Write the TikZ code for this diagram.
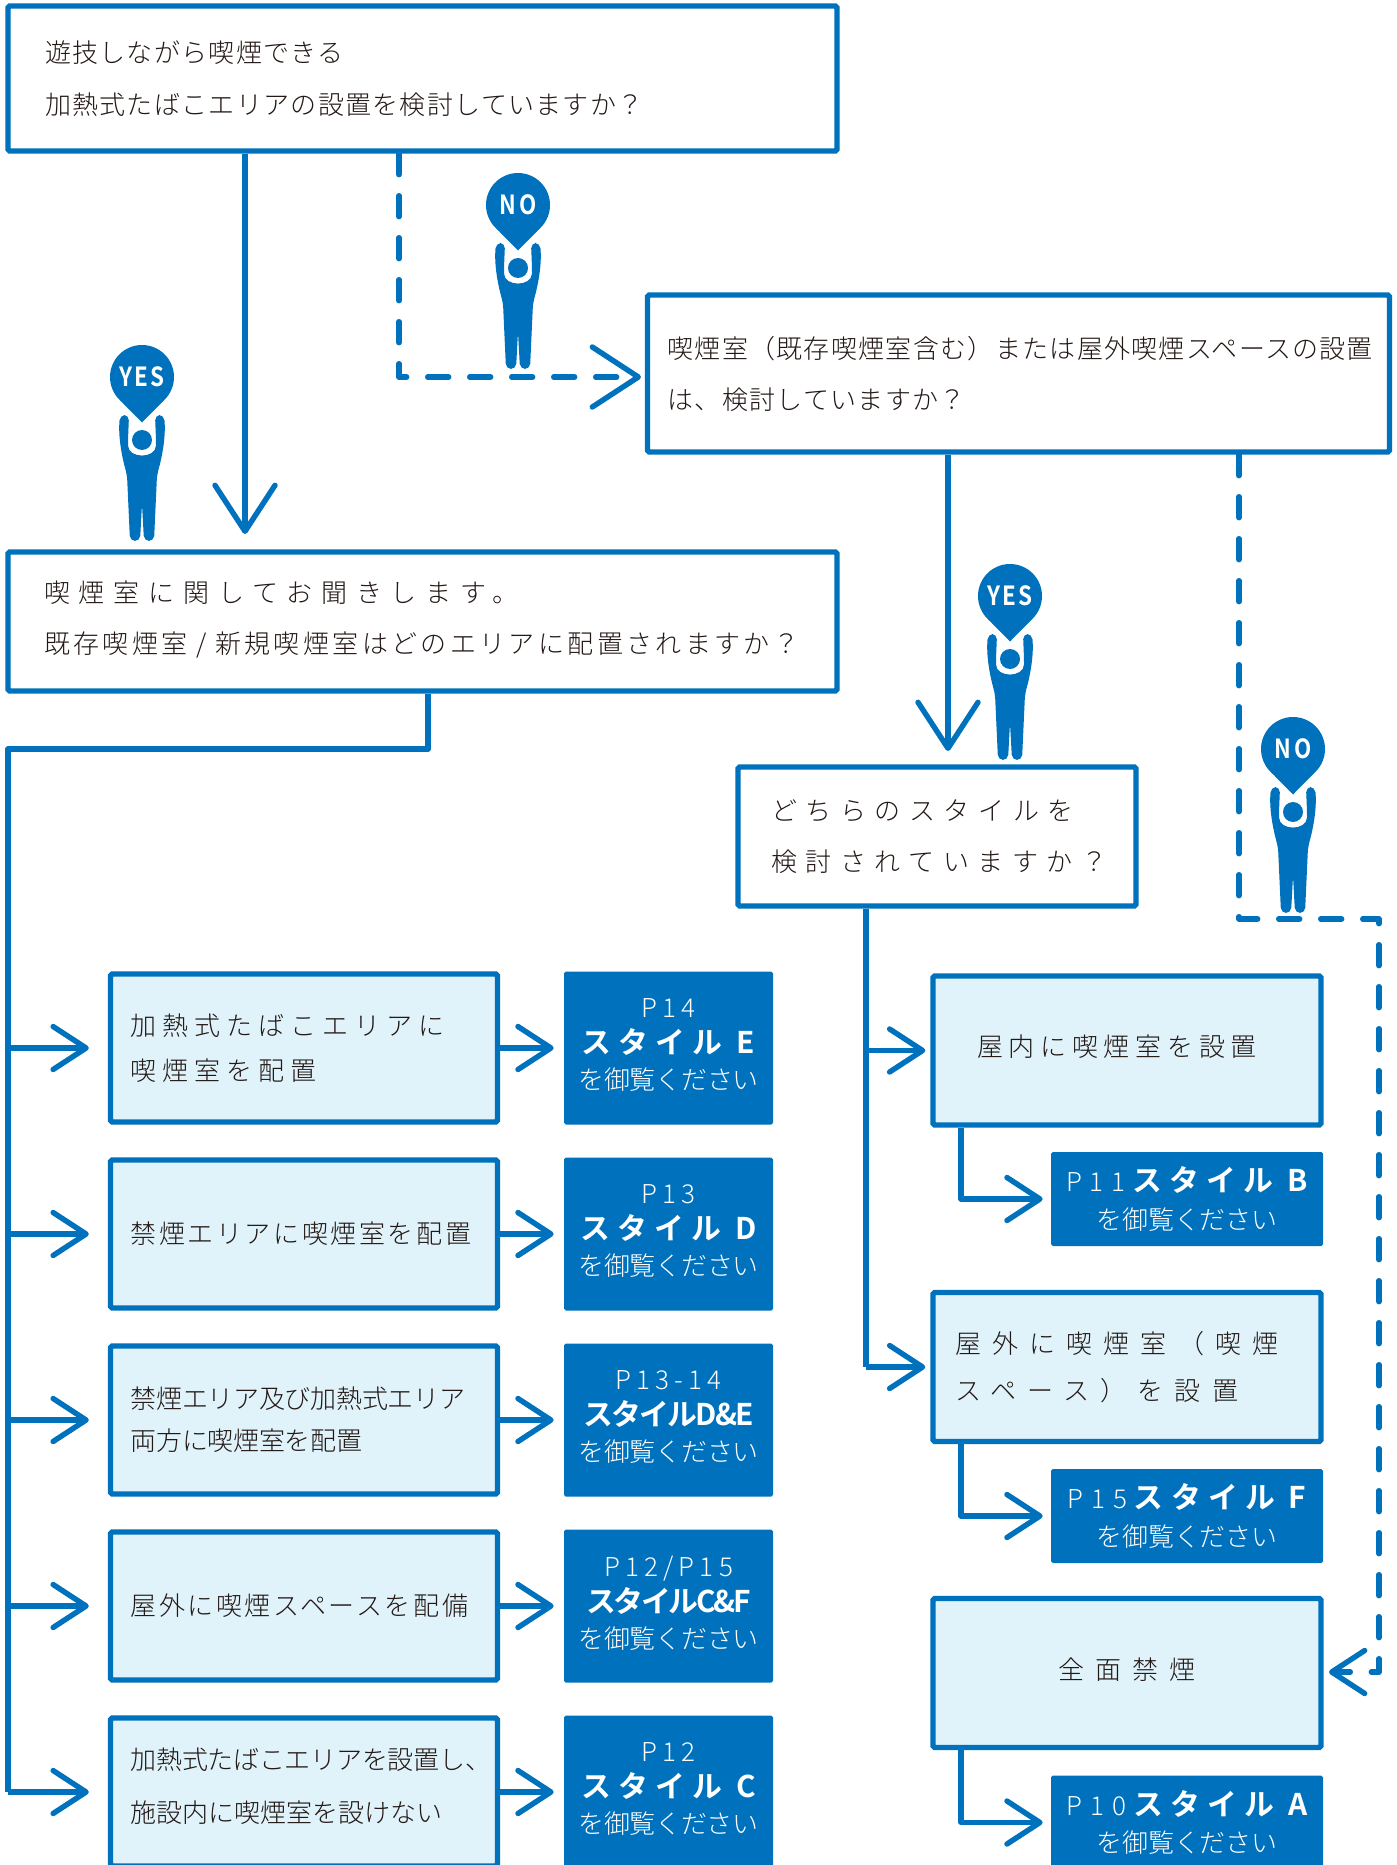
\documentclass[tikz,border=0pt]{standalone}
\usepackage{fontspec}
\usetikzlibrary{arrows.meta}
\newfontfamily\jp{Noto Sans CJK JP Light}
\newfontfamily\jpb{Noto Sans CJK JP Bold}
\definecolor{mainblue}{HTML}{0071BC}
\definecolor{paleblue}{HTML}{E0F3FB}
\definecolor{inkgray}{HTML}{231815}
\newcommand{\px}{0.02cm}
\newcommand{\ls}[2]{{\addfontfeature{LetterSpace=#1}#2}}
\newcommand{\ttl}[2]{{\jpb\fontsize{17pt}{20pt}\selectfont\addfontfeature{LetterSpace=#1}#2}}
\newcommand{\lift}[1]{\rule[-#1]{0pt}{#1}}
% figure holding up a pin
\newcommand{\signman}[4]{
\begin{scope}[shift={(#2,#3)}]
\fill[mainblue] (0,0) circle (32);
\fill[mainblue] (-22.6,22.6) -- (0,45.5) -- (22.6,22.6) -- cycle;
\fill[mainblue,rounded corners=3pt] (-13,38) -- (-22,38) .. controls (-24,60) and (-20,80) .. (-15,98) -- (-12,164) -- (-2,164) -- (0,127) -- (2,164) -- (12,164) -- (15,98) .. controls (20,80) and (24,60) .. (22,38) -- (13,38) -- (14,63) .. controls (14,82) and (-14,82) .. (-14,63) -- cycle;
\fill[mainblue] (0,63) circle (10);
\node[signtext] (#1) at (0,0) {#4};
\end{scope}
}
\tikzset{
x=\px, y=-\px,
boxsize/.style n args={3}{minimum width=#1*\px, minimum height=#2*\px, text width=(#1-2*#3)*\px},
mainbox/.style={draw=mainblue, line width=5.4*\px, inner sep=0pt, align=left, text=inkgray, rounded corners=1pt},
leadtext/.style={font=\jp\fontsize{14.8pt}{#1pt}\selectfont},
palebox/.style={mainbox, fill=paleblue},
bluebox/.style={fill=mainblue, inner sep=0pt, align=center, text=white, rounded corners=1pt, minimum width=#1*\px, font=\jp\fontsize{14.8pt}{20.4pt}\selectfont},
signtext/.style={inner sep=0pt, text=white, font=\jpb\fontsize{15pt}{15pt}\selectfont\addfontfeature{FakeStretch=0.85}},
conn/.style={draw=mainblue, line width=5.4*\px, line join=round},
dconn/.style={conn, line cap=round, dash pattern=on 21*\px off 21*\px},
bigtip/.style={-{Straight Barb[length=46*\px, width=60*\px, round]}},
midtip/.style={-{Straight Barb[length=33*\px, width=43*\px, round]}},
}
\begin{document}
\begin{tikzpicture}
\path[use as bounding box, clip] (0,0) rectangle (1396,1865);

\node[mainbox, leadtext=29.5, boxsize={829}{145}{37}] (smokeq) at (422.5,78.5) {\ls{5}{遊技しながら喫煙できる}\\\ls{5}{加熱式たばこエリアの設置を検討していますか？}};
\node[mainbox, leadtext=29, boxsize={742}{157}{20}] (roomq) at (1018.5,373.5) {\ls{5}{喫煙室（既存喫煙室含む）または屋外喫煙スペースの設置}\\\ls{5}{は、検討していますか？}};
\node[mainbox, leadtext=29, boxsize={829}{139}{36}] (areaq) at (422.5,621.5) {\ls{34}{喫煙室に関してお聞きします。}\\\ls{13}{既存喫煙室 / 新規喫煙室はどのエリアに配置されますか？}\lift{5pt}};
\node[mainbox, leadtext=29, boxsize={398}{139}{33}] (styleq) at (937,836.5) {\ls{33}{どちらのスタイルを}\\\ls{33}{検討されていますか？}};

% left column
\node[palebox, leadtext=26, boxsize={387}{148}{20}] (rowe) at (304,1048) {\ls{23}{加熱式たばこエリアに}\\\ls{23}{喫煙室を配置}};
\node[palebox, leadtext=26, boxsize={387}{148}{20}] (rowd) at (304,1234) {\ls{10}{禁煙エリアに喫煙室を配置}};
\node[palebox, leadtext=24, boxsize={387}{148}{20}] (rowde) at (304,1420) {\ls{-1}{禁煙エリア及び加熱式エリア}\\\ls{-1}{両方に喫煙室を配置}};
\node[palebox, leadtext=26, boxsize={387}{148}{20}] (rowcf) at (304,1606) {\ls{10}{屋外に喫煙スペースを配備}};
\node[palebox, leadtext=30, boxsize={387}{148}{20}] (rowc) at (304,1792) {\ls{-1}{加熱式たばこエリアを設置し、}\\施設内に喫煙室を設けない\lift{8pt}};

\node[bluebox=209, minimum height=153*\px] (pe) at (668.5,1048) {\ls{20}{P14}\\\ttl{24}{スタイル E}\\\ls{-1}{を御覧ください}\lift{4.3pt}};
\node[bluebox=209, minimum height=153*\px] (pd) at (668.5,1234) {\ls{20}{P13}\\\ttl{24}{スタイル D}\\\ls{-1}{を御覧ください}\lift{4.3pt}};
\node[bluebox=209, minimum height=153*\px] (pde) at (668.5,1420) {\ls{20}{P13-14}\\\ttl{-6}{スタイルD\&E}\\\ls{-1}{を御覧ください}\lift{4.3pt}};
\node[bluebox=209, minimum height=153*\px] (pcf) at (668.5,1606) {\ls{20}{P12/P15}\\\ttl{-8}{スタイルC\&F}\\\ls{-1}{を御覧ください}\lift{4.3pt}};
\node[bluebox=209, minimum height=153*\px] (pc) at (668.5,1792) {\ls{20}{P12}\\\ttl{24}{スタイル C}\\\ls{-1}{を御覧ください}\lift{4.3pt}};

% right column
\node[palebox, leadtext=26, boxsize={388}{149}{44}] (indoor) at (1127,1050.5) {\ls{22}{屋内に喫煙室を設置}\lift{6pt}};
\node[palebox, leadtext=27, boxsize={388}{149}{22}] (outdoor) at (1127,1367) {\ls{43}{屋外に喫煙室（喫煙}\\\ls{43}{スペース）を設置}};
\node[palebox, leadtext=26, align=center, boxsize={388}{149}{20}] (nosmoke) at (1127,1673) {\ls{43}{全面禁煙}\lift{5pt}};

\node[bluebox=272, minimum height=94*\px] (pb) at (1187,1199) {\ls{30}{P11}\hspace{4pt}\ttl{24}{スタイル B}\\[0.8pt]\ls{-1}{を御覧ください}};
\node[bluebox=272, minimum height=94*\px] (pf) at (1187,1516) {\ls{30}{P15}\hspace{4pt}\ttl{24}{スタイル F}\\[0.8pt]\ls{-1}{を御覧ください}};
\node[bluebox=272, minimum height=94*\px] (pa) at (1187,1822.5) {\ls{30}{P10}\hspace{4pt}\ttl{24}{スタイル A}\\[0.8pt]\ls{-1}{を御覧ください}};

\coordinate (yesdown) at (245,534);
\coordinate (nobend) at (399,377);
\coordinate (notip) at (641,377);
\coordinate (yesdowntwo) at (948,751);
\coordinate (nobendtwo) at (1239,919);
\coordinate (nobendthree) at (1379,919);
\coordinate (nocorner) at (1379,1672);
\coordinate (nosmoketip) at (1329,1672);
\coordinate (bendleft) at (428,749);
\coordinate (trunkleft) at (8,749);
\coordinate (trunkright) at (866,906);
\coordinate (stemright) at (961,1125);

\draw[conn, bigtip] (yesdown |- smokeq.south) -- (yesdown);
\draw[dconn, bigtip] (nobend |- smokeq.south) -- (nobend) -- (notip);
\draw[conn, bigtip] (yesdowntwo |- roomq.south) -- (yesdowntwo);
\draw[dconn, midtip] (nobendtwo |- roomq.south) -- (nobendtwo) -- (nobendthree) -- (nocorner) -- (nosmoketip);

\draw[conn] (bendleft |- areaq.south) -- (bendleft) -- (trunkleft) -- (trunkleft |- rowc);
\draw[conn, midtip, shorten >=19*\px] (trunkleft |- rowe) -- (rowe.west);
\draw[conn, midtip, shorten >=19*\px] (trunkleft |- rowd) -- (rowd.west);
\draw[conn, midtip, shorten >=19*\px] (trunkleft |- rowde) -- (rowde.west);
\draw[conn, midtip, shorten >=19*\px] (trunkleft |- rowcf) -- (rowcf.west);
\draw[conn, midtip, shorten >=19*\px] (trunkleft |- rowc) -- (rowc.west);

\draw[conn, midtip, shorten >=10*\px] (rowe.east) -- (pe.west);
\draw[conn, midtip, shorten >=10*\px] (rowd.east) -- (pd.west);
\draw[conn, midtip, shorten >=10*\px] (rowde.east) -- (pde.west);
\draw[conn, midtip, shorten >=10*\px] (rowcf.east) -- (pcf.west);
\draw[conn, midtip, shorten >=10*\px] (rowc.east) -- (pc.west);

\draw[conn] (trunkright |- styleq.south) -- (trunkright |- outdoor);
\draw[conn, midtip, shorten >=5*\px] (trunkright |- indoor) -- (indoor.west);
\draw[conn, midtip, shorten >=5*\px] (trunkright |- outdoor) -- (outdoor.west);

\draw[conn, midtip, shorten >=8*\px] (stemright |- indoor.south) |- (pb.west);
\draw[conn, midtip, shorten >=8*\px] (stemright |- outdoor.south) |- (pf.west);
\draw[conn, midtip, shorten >=8*\px] (stemright |- nosmoke.south) |- (pa.west);

\signman{signno}{518}{205}{\ls{12}{NO}}
\signman{signyes}{142}{377}{\ls{8}{YES}}
\signman{signyestwo}{1010}{596}{\ls{8}{YES}}
\signman{signnotwo}{1293}{749}{\ls{12}{NO}}
\end{tikzpicture}
\end{document}
